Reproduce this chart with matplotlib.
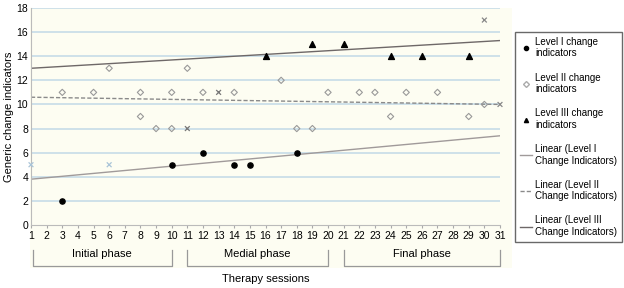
import matplotlib.pyplot as plt
from matplotlib.lines import Line2D
from matplotlib.patches import Rectangle
import numpy as np

###############################################################################
# Data
###############################################################################
sessions = list(range(1, 32))

lvl1_x = [3, 10, 12, 14, 15, 18]
lvl1_y = [2, 5, 6, 5, 5, 6]

lvl2_x = [3, 5, 6, 8, 8, 9, 10, 10, 11, 12, 14, 17, 18, 19, 20, 22, 23, 24, 25, 27, 29, 30]
lvl2_y = [11, 11, 13, 11, 9, 8, 8, 11, 13, 11, 11, 12, 8, 8, 11, 11, 11, 9, 11, 11, 9, 10]

lvl3_x = [16, 19, 21, 24, 26, 29]
lvl3_y = [14, 15, 15, 14, 14, 14]

# points where markers overlap (drawn as crosses)
cross_x = [1, 6, 11, 13, 30, 31]
cross_y = [5, 5, 8, 11, 17, 10]
cross_c = ['#a9c4d8', '#a9c4d8', '#777777', '#777777', '#888888', '#888888']

# trend lines (values at session 1 and 31)
trend1 = [3.8, 7.4]
trend2 = [10.6, 10.0]
trend3 = [13.0, 15.3]

phases = ['Initial phase', 'Medial phase', 'Final phase']
phase_start = [1.1, 11.0, 21.0]
phase_end = [10.0, 20.0, 31.0]

###############################################################################
# Plot
###############################################################################
plt.rcParams['font.family'] = ['Liberation Sans', 'DejaVu Sans']
fig = plt.figure(figsize=(6.24, 2.88), dpi=100)
cream = '#fdfdf2'
bg = Rectangle((30/624, 20/288), 482/624, 260/288,
               transform=fig.transFigure, facecolor=cream,
               edgecolor='none', zorder=-10)
fig.patches.append(bg)
ax = fig.add_axes([31/624, 63/288, 469/624, 217/288])
ax.set_facecolor(cream)

for yv in range(2, 19, 2):
    ax.axhline(yv, color='#c6dce8', lw=1.2, zorder=1)

ends = [sessions[0], sessions[-1]]
ax.plot(ends, trend1, color='#a09a9a', lw=1.0, zorder=2)
ax.plot(ends, trend2, color='#8a8a8a', lw=1.0, ls=(0, (3, 1.5)), zorder=2)
ax.plot(ends, trend3, color='#6e6868', lw=1.0, zorder=2)

ax.scatter(lvl1_x, lvl1_y, s=14, marker='o', color='black', zorder=4)
ax.scatter(lvl2_x, lvl2_y, s=10, marker='D', facecolor='none',
           edgecolor='#999999', linewidth=0.8, zorder=4)
ax.scatter(lvl3_x, lvl3_y, s=18, marker='^', color='black', zorder=4)
ax.scatter(cross_x, cross_y, s=12, marker='x', c=cross_c, linewidth=0.9,
           zorder=4, clip_on=False)

ax.set_xlim(1, 31)
ax.set_ylim(0, 18)
ax.set_xticks(sessions)
ax.set_yticks(range(0, 19, 2))
ax.tick_params(labelsize=7.5, length=2.5, color='#aaaaaa', pad=2)
ax.tick_params(axis='y', length=0)
for s in ['top', 'right']:
    ax.spines[s].set_visible(False)
for s in ['left', 'bottom']:
    ax.spines[s].set_color('#bbbbbb')
    ax.spines[s].set_linewidth(0.8)
ax.set_ylabel('Generic change indicators', fontsize=8, labelpad=2)

# phase brackets
for name, a, b in zip(phases, phase_start, phase_end):
    ax.plot([a, a, b, b], [-2.1, -3.4, -3.4, -2.1], color='#999999', lw=0.9,
            clip_on=False)
    ax.text((a + b) / 2, -2.4, name, ha='center', va='center', fontsize=8)
ax.text(16, -4.5, 'Therapy sessions', ha='center', va='center', fontsize=8)

handles = [
    Line2D([], [], marker='o', color='black', ls='none', markersize=3),
    Line2D([], [], marker='D', markerfacecolor='none', markeredgecolor='#aaaaaa',
           ls='none', markersize=3),
    Line2D([], [], marker='^', color='black', ls='none', markersize=3),
    Line2D([], [], color='#a09a9a', lw=1.0),
    Line2D([], [], color='#8a8a8a', lw=1.0, ls=(0, (3, 1.5))),
    Line2D([], [], color='#6e6868', lw=1.0),
]
labels = ['Level I change\nindicators', 'Level II change\nindicators',
          'Level III change\nindicators', 'Linear (Level I\nChange Indicators)',
          'Linear (Level II\nChange Indicators)',
          'Linear (Level III\nChange Indicators)']
fig.legend(handles, labels, loc='upper left', bbox_to_anchor=(515/624, 1 - 32/288),
           fontsize=7, frameon=True, fancybox=False, edgecolor='#444444',
           handlelength=1.2, handletextpad=0.4, labelspacing=1.45,
           borderpad=0.5, borderaxespad=0)

fig.savefig('out.png', dpi=100)
